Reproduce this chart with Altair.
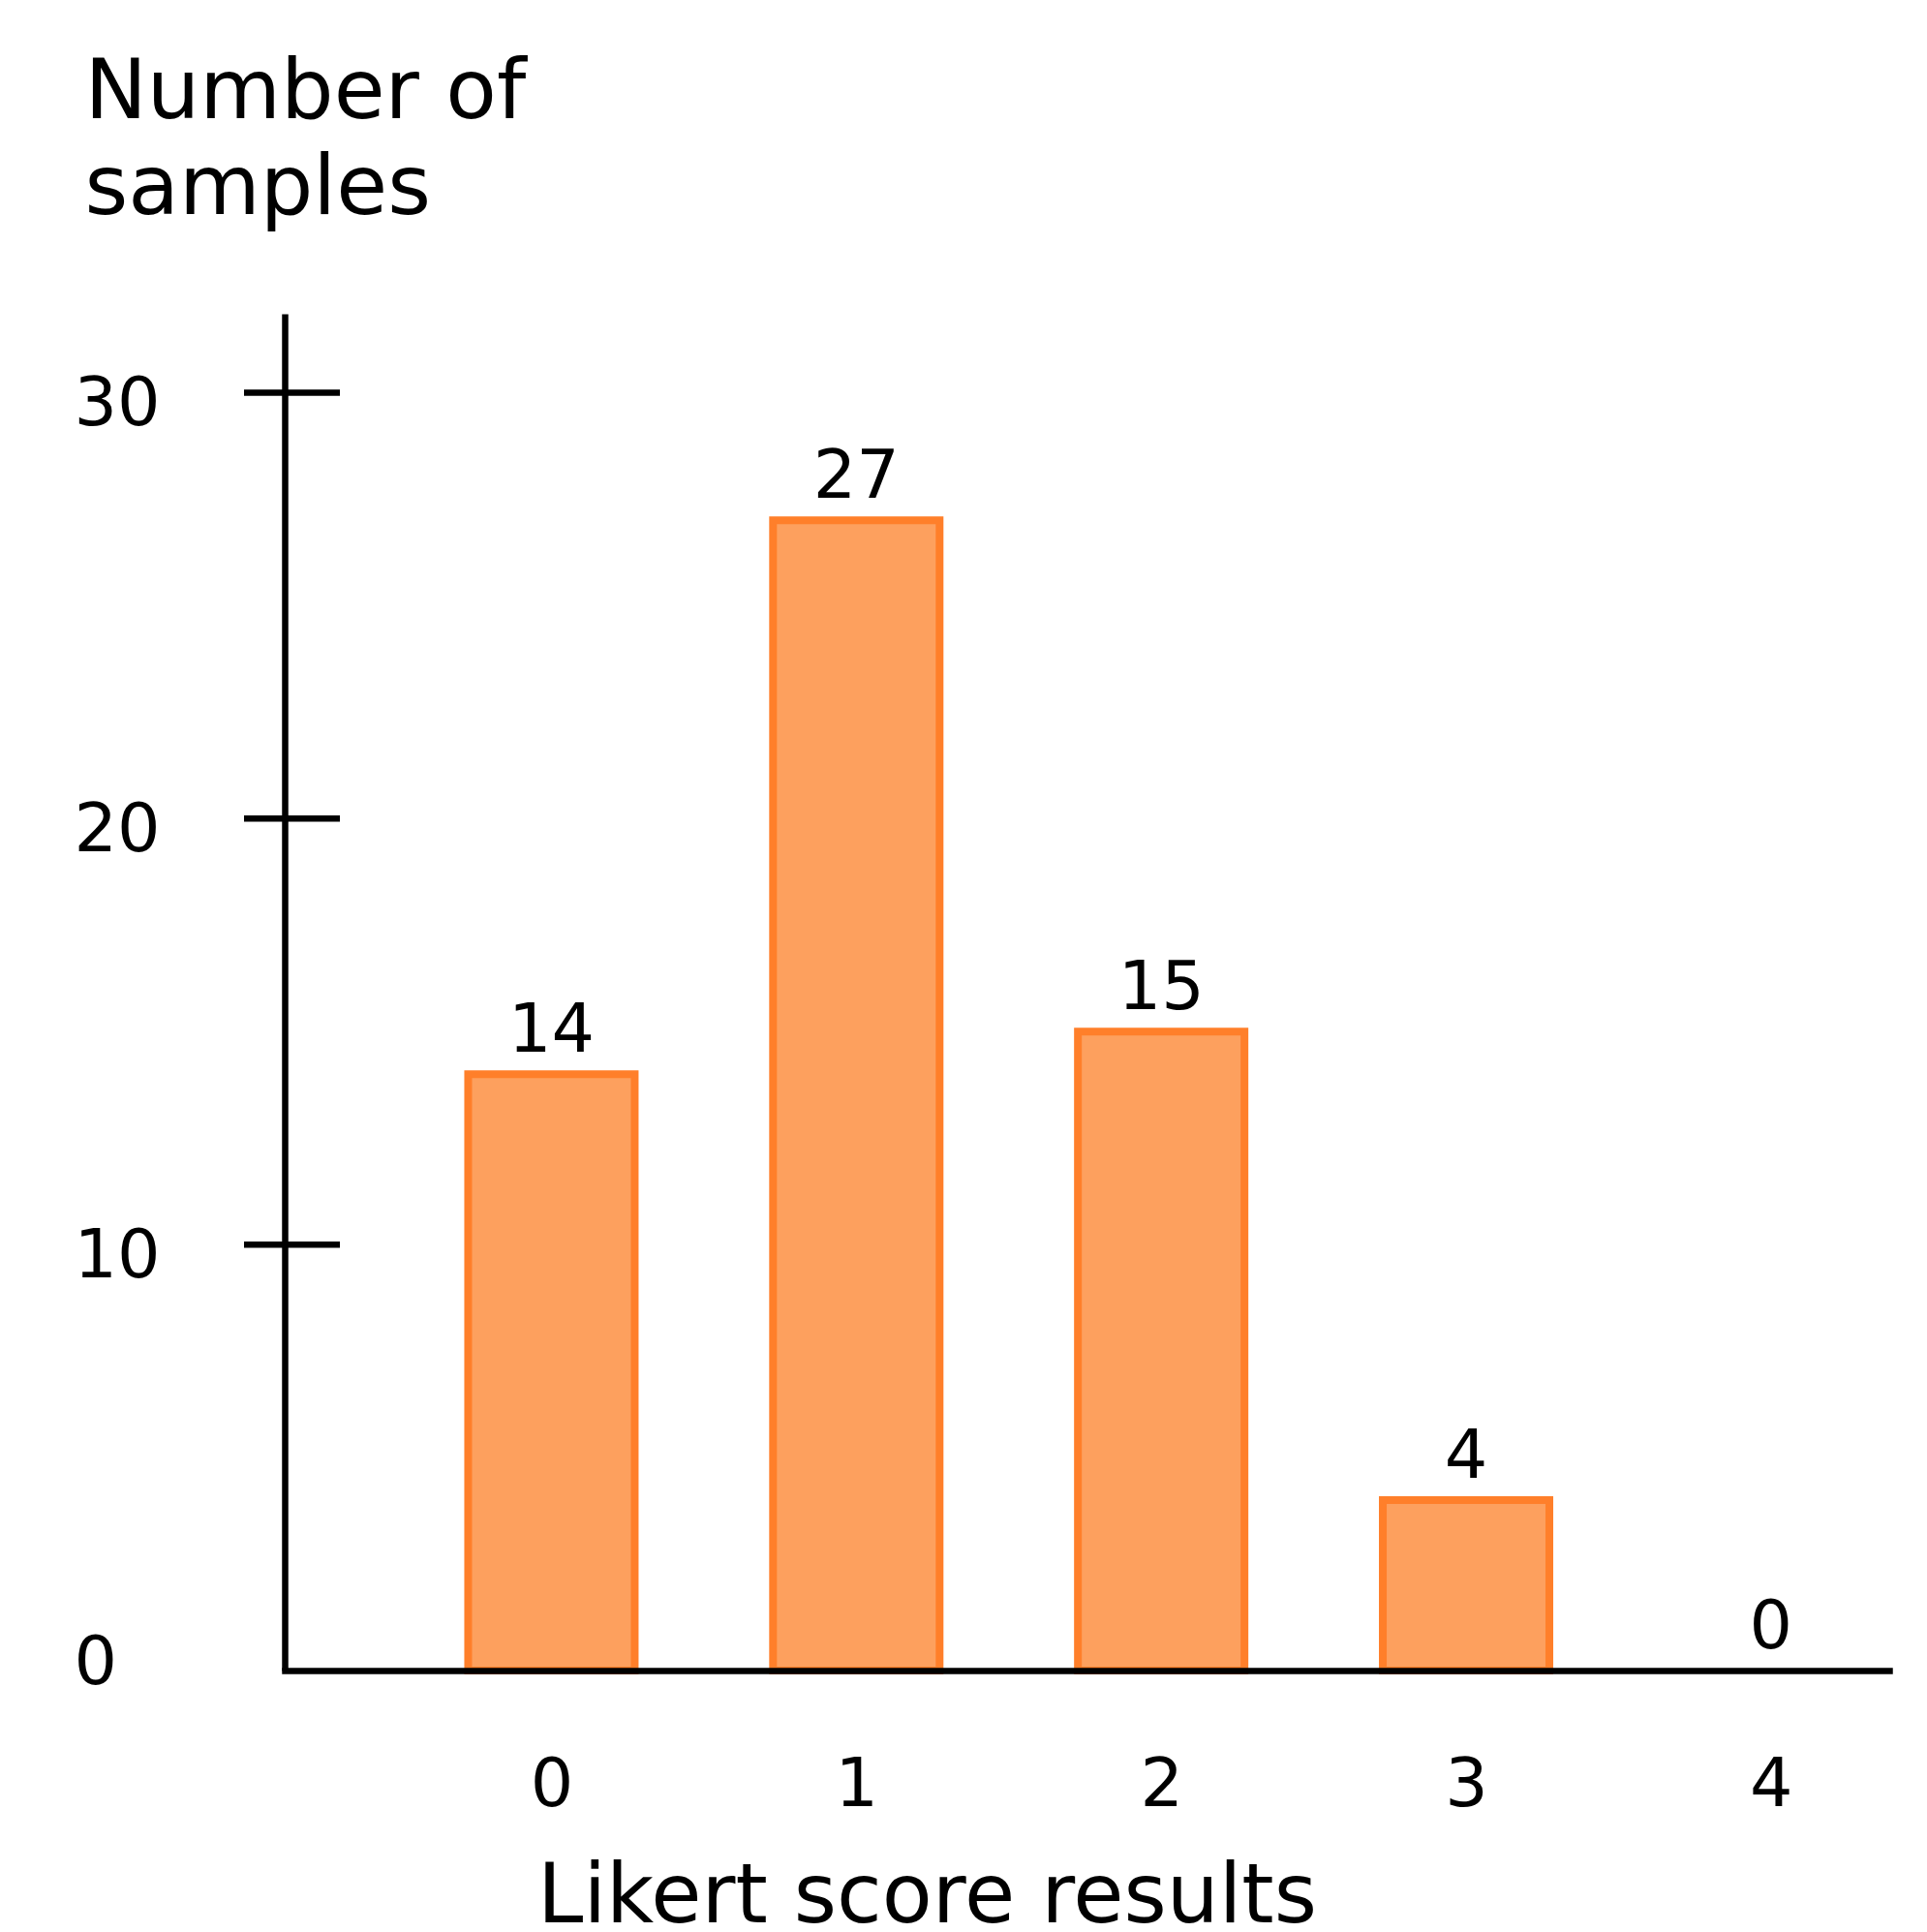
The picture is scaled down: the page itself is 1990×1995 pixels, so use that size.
import altair as alt
import pandas as pd

# ---- data ----
scores = [0, 1, 2, 3, 4]
counts = [14, 27, 15, 4, 0]
tick_values = [10, 20, 30]
y_label_values = [0, 10, 20, 30]
x_title = "Likert score results"
y_title = ["Number of", "samples"]

df = pd.DataFrame({"score": scores, "count": counts})
ticks_df = pd.DataFrame({"tick": tick_values})

FONT = "DejaVu Sans"
LINE_W = 6.5
x_scale = alt.Scale(domain=[-0.859, 4.372], nice=False, zero=False)
y_scale = alt.Scale(domain=[0, 31.85], nice=False)

x_axis = alt.Axis(
    values=scores, format="d", grid=False, ticks=False, tickSize=0,
    domainColor="black", domainWidth=LINE_W, domainCap="square",
    labelFont=FONT, labelFontSize=70, labelColor="black",
    labelPadding=118, labelBaseline="middle", labelFlush=False, labelOverlap=False,
    title=x_title, titleFont=FONT, titleFontSize=85, titleFontWeight="normal",
    titleColor="black", titleX=663, titleY=259, titleAlign="center",
    titleBaseline="alphabetic", zindex=1,
)
y_axis = alt.Axis(
    values=y_label_values, grid=False, ticks=False, tickSize=0,
    domainColor="black", domainWidth=LINE_W,
    labelFont=FONT, labelFontSize=70, labelColor="black",
    labelAlign="left", labelBaseline="middle", labelPadding=218,
    labelOffset={"condition": {"test": "datum.value == 0", "value": -8}, "value": 12},
    labelFlush=False, labelOverlap=False,
    title=y_title, titleFont=FONT, titleFontSize=86, titleFontWeight="normal",
    titleColor="black", titleAngle=0, titleX=-207, titleY=-203,
    titleAlign="left", titleBaseline="alphabetic", titleLineHeight=99, zindex=1,
)

bars = alt.Chart(df).transform_filter("datum.count > 0").mark_bar(
    size=172, fill="#fda05e", stroke="#ff7f2a", strokeWidth=8, strokeOpacity=1
).encode(
    x=alt.X("score:Q", scale=x_scale, axis=x_axis),
    y=alt.Y("count:Q", scale=y_scale, axis=y_axis),
)

labels = alt.Chart(df).mark_text(
    font=FONT, fontSize=70, baseline="alphabetic", dy=-23, color="black"
).encode(
    x=alt.X("score:Q", scale=x_scale, axis=x_axis),
    y=alt.Y("count:Q", scale=y_scale, axis=y_axis),
    text=alt.Text("count:Q"),
)

tickmarks = alt.Chart(ticks_df).mark_tick(
    orient="horizontal", size=99, thickness=LINE_W, color="black", opacity=1
).encode(
    y=alt.Y("tick:Q", scale=y_scale, axis=y_axis),
    x=alt.value(7.5),
)

chart = alt.layer(bars, tickmarks, labels).properties(
    width=1657, height=1401,
    autosize=alt.AutoSizeParams(type="none"),
    padding={"left": 294, "top": 324, "right": 39, "bottom": 270},
    background="white",
).configure_view(stroke=None)

chart.save("out.html", embed_options={"renderer": "svg", "actions": False})
